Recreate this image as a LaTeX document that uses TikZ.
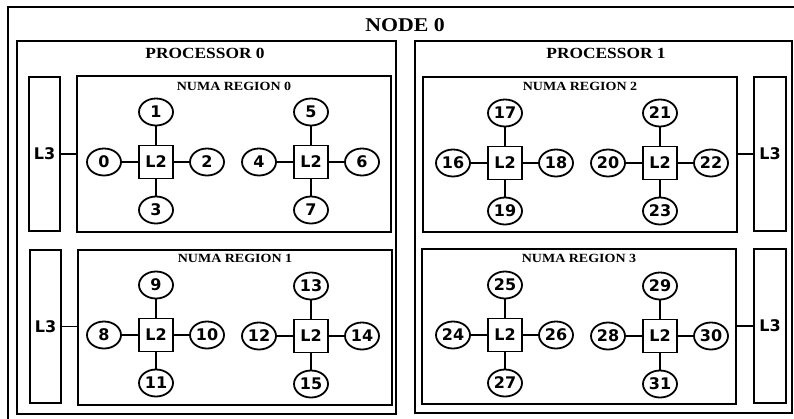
\documentclass[tikz,border=0pt]{standalone}
\usepackage{fontspec}
\usetikzlibrary{shapes.geometric}
\newfontfamily\titlefont[FakeStretch=1.12]{Liberation Serif}
\newfontfamily\corefont{DejaVu Sans}
\tikzset{
  frame/.style={draw, line width=2pt, rectangle, inner sep=0pt, outer sep=0pt},
  link/.style={line width=1.8pt},
  nodetitle/.style={font=\titlefont\bfseries\fontsize{19.5}{20}\selectfont, inner sep=0pt},
  proctitle/.style={font=\titlefont\bfseries\fontsize{15.5}{16}\selectfont, inner sep=0pt},
  numatitle/.style={font=\titlefont\bfseries\fontsize{12.5}{13}\selectfont, inner sep=0pt},
  cachebox/.style={frame, line width=1.8pt, font=\corefont\bfseries\fontsize{16}{16}\selectfont},
  core/.style={draw, ellipse, line width=1.8pt, inner sep=0pt, outer sep=0pt,
    minimum width=34pt, minimum height=27pt, font=\corefont\bfseries\fontsize{16}{16}\selectfont},
}
\begin{document}
\begin{tikzpicture}[x=1pt, y=-1pt]
\useasboundingbox (0,0) rectangle (794,418);
\clip (0,0) rectangle (794,418);

% machine frame (right and bottom sides lie past the page edge)
\node[frame, minimum width=795pt, minimum height=421pt] (node0) at (405.5,217.5) {};
\node[nodetitle] (node0title) at (405,25) {NODE 0};

% processors
\node[frame, minimum width=379pt, minimum height=373pt] (proc0) at (206.5,227.5) {};
\node[frame, minimum width=377pt, minimum height=372pt] (proc1) at (603.5,227) {};
\node[proctitle] (proc0title) at (205,53) {PROCESSOR 0};
\node[proctitle] (proc1title) at (606,53) {PROCESSOR 1};

% NUMA regions
\node[frame, minimum width=314pt, minimum height=156pt] (numa0) at (234,154) {};
\node[frame, minimum width=314pt, minimum height=155pt] (numa1) at (235,327.5) {};
\node[frame, minimum width=314pt, minimum height=155pt] (numa2) at (580,154.5) {};
\node[frame, minimum width=314pt, minimum height=155pt] (numa3) at (579,326.5) {};
\foreach \r/\x/\y in {0/234/86, 1/235/258, 2/580/86, 3/579/258}
  \node[numatitle] (numa\r title) at (\x,\y) {NUMA REGION \r};

% L3 caches, one per NUMA region
\node[cachebox, minimum width=31pt, minimum height=154pt] (l3r0) at (44.5,154) {L3};
\node[cachebox, minimum width=31pt, minimum height=153pt] (l3r1) at (45.5,326.5) {L3};
\node[cachebox, minimum width=32pt, minimum height=154pt] (l3r2) at (770,154) {L3};
\node[cachebox, minimum width=32pt, minimum height=154pt] (l3r3) at (770,326) {L3};
\draw[link] (l3r0.east) -- (l3r0.east -| numa0.west);
\draw[link] (l3r1.east) -- (l3r1.east -| numa1.west);
\draw[link] (l3r2.west) -- (l3r2.west -| numa2.east);
\draw[link] (l3r3.west) -- (l3r3.west -| numa3.east);

% L2 caches with four cores each: left, top, right, bottom
\foreach \r/\k/\x/\y in {0/0/156/162, 0/1/311/162, 1/0/156/335, 1/1/311/336,
                         2/0/505/163, 2/1/660/163, 3/0/505/335, 3/1/660/336} {
  \pgfmathtruncatemacro{\base}{8*\r+4*\k}
  \pgfmathtruncatemacro{\ca}{\base}
  \pgfmathtruncatemacro{\cb}{\base+1}
  \pgfmathtruncatemacro{\cc}{\base+2}
  \pgfmathtruncatemacro{\cd}{\base+3}
  \node[cachebox, minimum width=34pt, minimum height=33pt] (l2r\r k\k) at (\x,\y) {L2};
  \node[core] (c\ca) at (\x-52,\y) {\ca};
  \node[core] (c\cb) at (\x,\y-50) {\cb};
  \node[core] (c\cc) at (\x+51,\y) {\cc};
  \node[core] (c\cd) at (\x,\y+48) {\cd};
  \draw[link] (l2r\r k\k.west) -- (c\ca.east);
  \draw[link] (l2r\r k\k.north) -- (c\cb.south);
  \draw[link] (l2r\r k\k.east) -- (c\cc.west);
  \draw[link] (l2r\r k\k.south) -- (c\cd.north);
}
\end{tikzpicture}
\end{document}
